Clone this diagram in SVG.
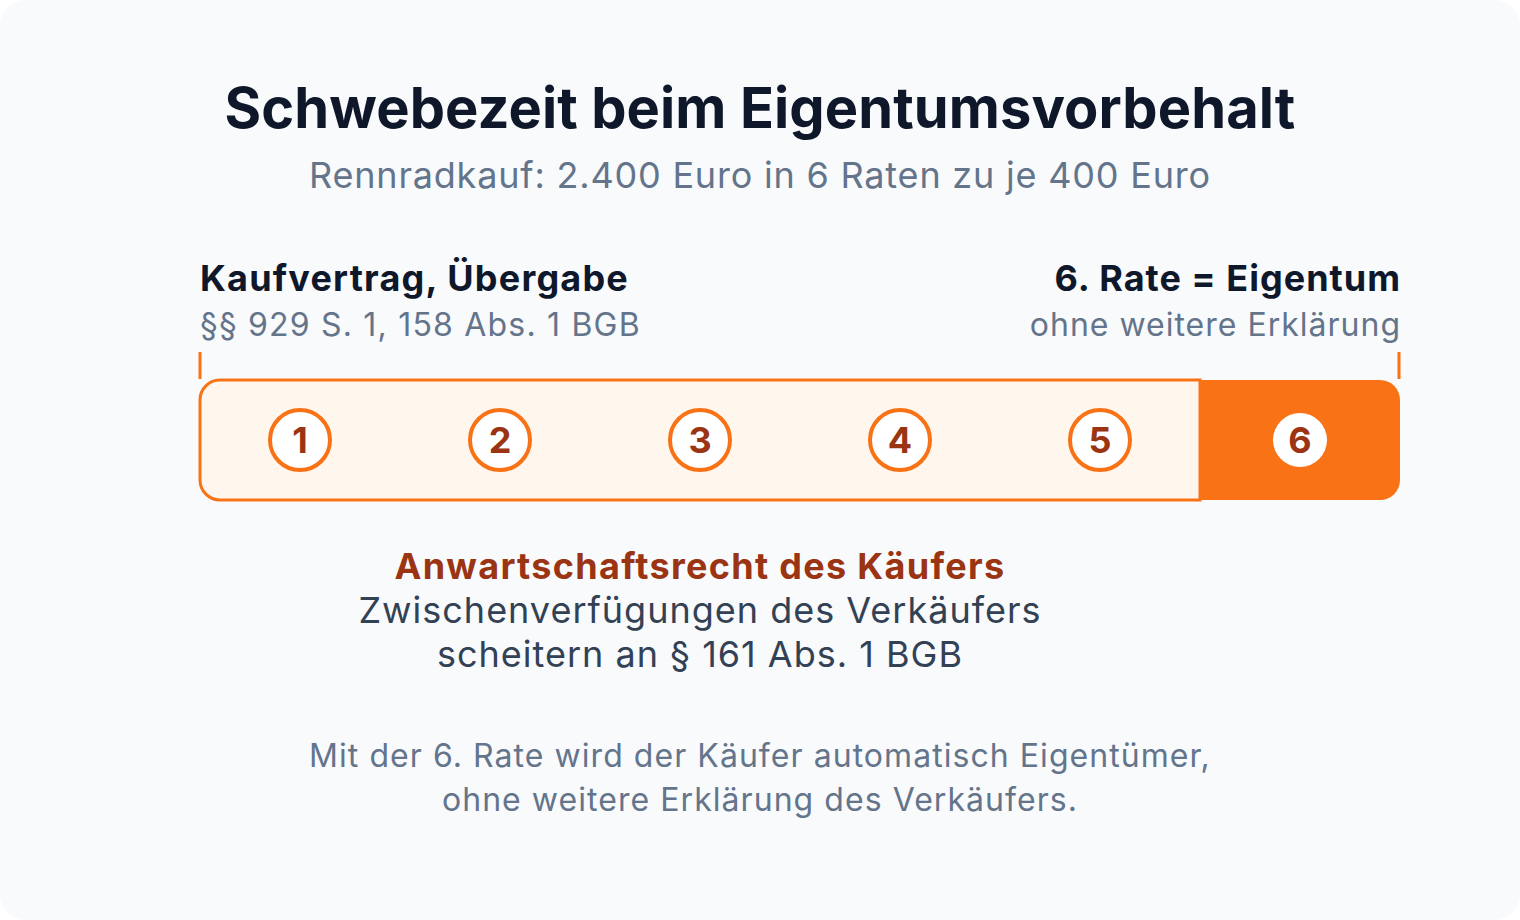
<svg xmlns="http://www.w3.org/2000/svg" width="1520" height="920" viewBox="0 0 1520 920">
<style>
text{font-family:Inter,"Noto Sans","Liberation Sans",sans-serif}
.title{font-size:56px;font-weight:700;fill:#0f172a;letter-spacing:0.1px}
.sub{font-size:36px;fill:#64748b;letter-spacing:0.8px}
.lbl{font-size:36px;font-weight:700;fill:#0f172a;letter-spacing:1.2px}
.lsub{font-size:32px;fill:#64748b;letter-spacing:1.2px}
.num{font-size:36px;font-weight:700;fill:#9a3412;text-anchor:middle}
.ring{fill:#ffffff;stroke:#f97316;stroke-width:4}
.tick{stroke:#f97316;stroke-width:3}
.anw{font-size:36px;font-weight:700;fill:#9a3412;text-anchor:middle;letter-spacing:1.3px}
.mid{font-size:36px;fill:#334155;text-anchor:middle;letter-spacing:1px}
.foot{font-size:32px;fill:#64748b;text-anchor:middle;letter-spacing:1.05px}
</style>
<rect x="0" y="0" width="1520" height="920" fill="#ffffff"/>
<rect x="0" y="0" width="1520" height="920" rx="26" fill="#f8fafc"/>
<g id="title">
<text class="title" x="760" y="128" text-anchor="middle">Schwebezeit beim Eigentumsvorbehalt</text>
<text class="sub" x="760" y="188" text-anchor="middle">Rennradkauf: 2.400 Euro in 6 Raten zu je 400 Euro</text>
</g>
<g id="label-start">
<text class="lbl" x="200" y="291">Kaufvertrag, Übergabe</text>
<text class="lsub" x="200" y="336">§§ 929 S. 1, 158 Abs. 1 BGB</text>
<line class="tick" x1="200" y1="352" x2="200" y2="379"/>
</g>
<g id="label-end">
<text class="lbl" x="1401" y="291" text-anchor="end" style="letter-spacing:1px">6. Rate = Eigentum</text>
<text class="lsub" x="1401" y="336" text-anchor="end" style="letter-spacing:1px">ohne weitere Erklärung</text>
<line class="tick" x1="1399" y1="352" x2="1399" y2="379"/>
</g>
<g id="bar">
<rect x="1170" y="380" width="230" height="120" rx="20" fill="#f97316"/>
<path d="M220,380 H1200 V500 H220 A20,20 0 0 1 200,480 V400 A20,20 0 0 1 220,380 Z" fill="#fff7ed" stroke="#f97316" stroke-width="3"/>
</g>
<g id="rate1"><circle class="ring" cx="300" cy="440" r="30"/><text class="num" x="300" y="453">1</text></g>
<g id="rate2"><circle class="ring" cx="500" cy="440" r="30"/><text class="num" x="500" y="453">2</text></g>
<g id="rate3"><circle class="ring" cx="700" cy="440" r="30"/><text class="num" x="700" y="453">3</text></g>
<g id="rate4"><circle class="ring" cx="900" cy="440" r="30"/><text class="num" x="900" y="453">4</text></g>
<g id="rate5"><circle class="ring" cx="1100" cy="440" r="30"/><text class="num" x="1100" y="453">5</text></g>
<g id="rate6"><circle cx="1300" cy="440" r="27" fill="#ffffff"/><text class="num" x="1300" y="453">6</text></g>
<g id="anwartschaft">
<text class="anw" x="700" y="579">Anwartschaftsrecht des Käufers</text>
<text class="mid" x="700" y="623">Zwischenverfügungen des Verkäufers</text>
<text class="mid" x="700" y="667">scheitern an § 161 Abs. 1 BGB</text>
</g>
<g id="footer">
<text class="foot" x="760" y="767">Mit der 6. Rate wird der Käufer automatisch Eigentümer,</text>
<text class="foot" x="760" y="811">ohne weitere Erklärung des Verkäufers.</text>
</g>
<g id="connectors"></g>
</svg>
